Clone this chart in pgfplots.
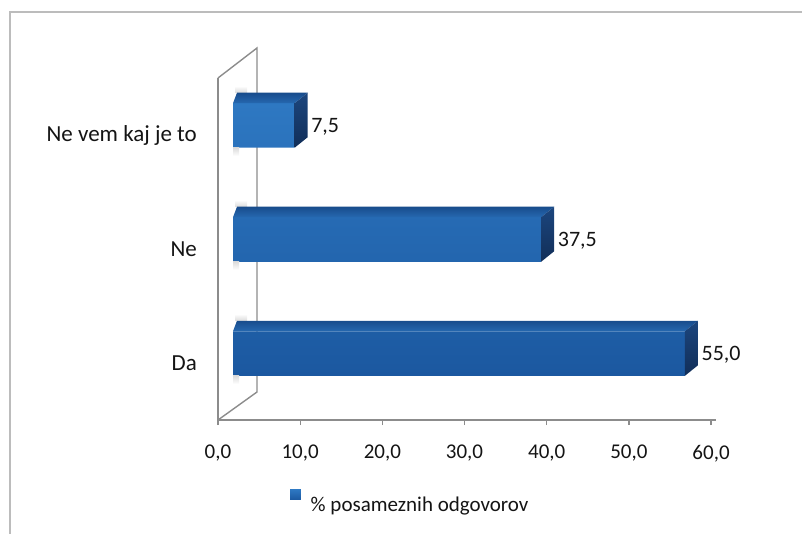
\documentclass[border=0pt]{standalone}
\usepackage{fontspec}
\setmainfont{Carlito}
\usepackage{pgfplots}
\pgfplotsset{compat=1.18}
\usepackage{pgfplotstable}

\definecolor{framegray}{RGB}{188,188,188}
\definecolor{wallgray}{RGB}{140,140,140}
\definecolor{axisgray}{RGB}{140,140,140}
\definecolor{txt}{RGB}{20,20,20}
\definecolor{frontTop}{RGB}{46,120,194}
\definecolor{frontBot}{RGB}{27,88,160}
\definecolor{capFront}{RGB}{38,104,176}
\definecolor{capBack}{RGB}{24,76,140}
\definecolor{sideTop}{RGB}{28,70,126}
\definecolor{sideBot}{RGB}{17,46,88}
\definecolor{keyblue}{RGB}{40,108,186}

% share of answers per option (index 0 = bottom bar)
\pgfplotstableread{
idx v
0 55.0
1 37.5
2 7.5
}\answers

\pgfdeclareplotmark{nothing}{}

\begin{document}
\begin{tikzpicture}
\path[use as bounding box] (0pt,0pt) rectangle (802pt,533pt);
\draw[framegray, line width=2.5pt] (10pt,-5pt) -- (10pt,521pt) -- (810pt,521pt);
\begin{axis}[
  at={(218pt,113pt)}, anchor=south west,
  scale only axis, width=498pt, height=342pt,
  xmin=0, xmax=60.6, ymin=-0.5, ymax=2.5,
  enlargelimits=false, clip=false,
  axis x line*=bottom, axis y line*=left,
  x axis line style={axisgray, line width=1.3pt, -},
  y axis line style={wallgray, line width=1.4pt, -},
  xtick={0,10,...,60}, ytick={0,1,2},
  yticklabels={Da,Ne,Ne vem kaj je to},
  ytick style={draw=none},
  xtick style={axisgray, line width=1.3pt},
  tick align=outside, major tick length=5pt,
  /pgf/number format/assume math mode=true,
  x tick label style={/pgf/number format/fixed, /pgf/number format/fixed zerofill,
                      /pgf/number format/precision=1, /pgf/number format/use comma},
  tick label style={font=\fontsize{21}{25}\selectfont, text=txt},
  xticklabel style={anchor=north, inner sep=0pt, yshift=-20pt},
  yticklabel style={anchor=base east, inner sep=0pt, xshift=-16pt, yshift=-7pt,
                    font=\fontsize{23}{27}\selectfont},
  legend style={draw=none, fill=none, inner sep=0pt,
                at={(0.1446,-0.2398)}, anchor=west,
                font=\fontsize{21}{25}\selectfont, text=txt},
]
  % side wall of the 3D chart
  \draw[wallgray, line width=1.4pt] (rel axis cs:0,1) -- ++(39pt,30pt)
        -- ++(0pt,-344pt) -- (rel axis cs:0,0);

  % front faces of the bars
  \addplot[xbar, bar width=44.5pt, bar shift=0pt, draw=none,
           top color=frontTop, bottom color=frontBot,
           xshift=15pt, yshift=9.5pt,
           point meta=x,
           nodes near coords={\pgfmathprintnumber[fixed, fixed zerofill, precision=1, use comma]{\pgfplotspointmeta}},
           nodes near coords style={anchor=base west, inner sep=0pt, xshift=16.5pt, yshift=-7pt,
                                    font=\fontsize{22}{26}\selectfont, text=txt},
           legend image code/.code={\fill[keyblue] (0pt,-5pt) rectangle (10.5pt,5.5pt);
                                    \path (18.5pt,0pt);}]
    table[x=v, y=idx] {\answers};
  \addlegendentry{\% posameznih odgovorov}

  % top and right faces of the bars, with their soft shadow on the wall
  \addplot[forget plot, scatter, only marks, mark=nothing,
           visualization depends on={\thisrow{v}*8.2178 \as \barlen},
           scatter/@pre marker code/.code={%
             \shade[draw=none, top color=white, bottom color=black!14]
               (17pt-\barlen pt,42.25pt) rectangle (29pt-\barlen pt,49pt);
             \shade[draw=none, top color=black!14, bottom color=white]
               (15pt-\barlen pt,-12.75pt) rectangle (21pt-\barlen pt,-21pt);
             \shade[draw=none, bottom color=capFront, top color=capBack]
               (15pt-\barlen pt,31.75pt) -- (15pt,31.75pt) -- (28pt,42.25pt)
               -- (19pt-\barlen pt,42.25pt) -- cycle;
             \shade[draw=none, top color=sideTop, bottom color=sideBot]
               (15pt,31.75pt) -- (28pt,42.25pt) -- (28pt,-2.25pt)
               -- (15pt,-12.75pt) -- cycle;
           },
           scatter/@post marker code/.code={}]
    table[x=v, y=idx] {\answers};
\end{axis}
\end{tikzpicture}
\end{document}
